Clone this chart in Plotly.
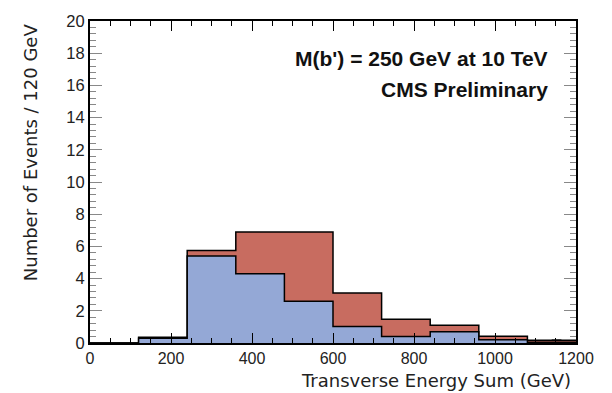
import plotly.graph_objects as go

bin_edges = [0, 120, 240, 360, 480, 600, 720, 840, 960, 1080, 1200]
total_counts = [0.0, 0.35, 5.75, 6.9, 6.9, 3.1, 1.47, 1.1, 0.42, 0.17]
blue_counts = [0.0, 0.3, 5.4, 4.3, 2.6, 1.03, 0.4, 0.7, 0.2, 0.05]
extra_x = [1152]
extra_w = [24]
extra_y = [0.22]

xticks = [0, 200, 400, 600, 800, 1000, 1200]
yticks = [0, 2, 4, 6, 8, 10, 12, 14, 16, 18, 20]

def step(vals):
    return list(vals) + [vals[-1]]

fig = go.Figure()
fig.add_trace(go.Scatter(x=bin_edges, y=step(total_counts), mode="lines",
                         line=dict(shape="hv", color="black", width=1.5),
                         fill="tozeroy", fillcolor="#c86c60", hoverinfo="skip"))
fig.add_trace(go.Scatter(x=bin_edges, y=step(blue_counts), mode="lines",
                         line=dict(shape="hv", color="black", width=1.5),
                         fill="tozeroy", fillcolor="#94a8d6", hoverinfo="skip"))
fig.add_trace(go.Bar(x=extra_x, y=extra_y, width=extra_w, marker_color="black",
                     marker_line_width=0, hoverinfo="skip"))

font = "Liberation Sans, Arial, Helvetica, sans-serif"
tfont = "DejaVu Sans, Liberation Sans, sans-serif"
fig.update_layout(
    width=612, height=393, margin=dict(l=90, r=36, t=15, b=50),
    paper_bgcolor="white", plot_bgcolor="white", showlegend=False,
    font=dict(family=font, color="black", size=16),
    xaxis=dict(range=[0, 1200], tickvals=xticks, ticks="inside", ticklen=10,
               tickwidth=1, tickcolor="black", showgrid=False, zeroline=False,
               showline=True, linecolor="black", linewidth=2, mirror="allticks",
               minor=dict(dtick=50, ticks="inside", ticklen=5, tickcolor="black", showgrid=False),
               tickfont=dict(size=16, color="#222")),
    yaxis=dict(range=[0, 20], tickvals=yticks, ticks="inside", ticklen=12,
               tickwidth=1, tickcolor="#888", showgrid=False, zeroline=False,
               showline=True, linecolor="black", linewidth=2, mirror="allticks",
               minor=dict(dtick=0.4, ticks="inside", ticklen=6, tickcolor="#888", showgrid=False),
               tickfont=dict(size=16.5, color="#222")),
    annotations=[
        dict(text="Number of Events / 120 GeV", textangle=-90, xref="paper", yref="paper",
             x=-0.123, y=1.0, xanchor="center", yanchor="top", showarrow=False,
             font=dict(family=tfont, size=18, color="#222")),
        dict(text="Transverse Energy Sum (GeV)", xref="paper", yref="paper",
             x=0.994, y=-0.116, xanchor="right", yanchor="middle", showarrow=False,
             font=dict(family=tfont, size=18, color="#222")),
        dict(text="<b>M(b') = 250 GeV at 10 TeV</b>", xref="paper", yref="paper",
             x=0.947, y=0.884, xanchor="right", yanchor="middle", showarrow=False,
             font=dict(size=21, color="#111")),
        dict(text="<b>CMS Preliminary</b>", xref="paper", yref="paper",
             x=0.947, y=0.787, xanchor="right", yanchor="middle", showarrow=False,
             font=dict(size=21, color="#111")),
    ],
)
fig.write_html("out.html")
